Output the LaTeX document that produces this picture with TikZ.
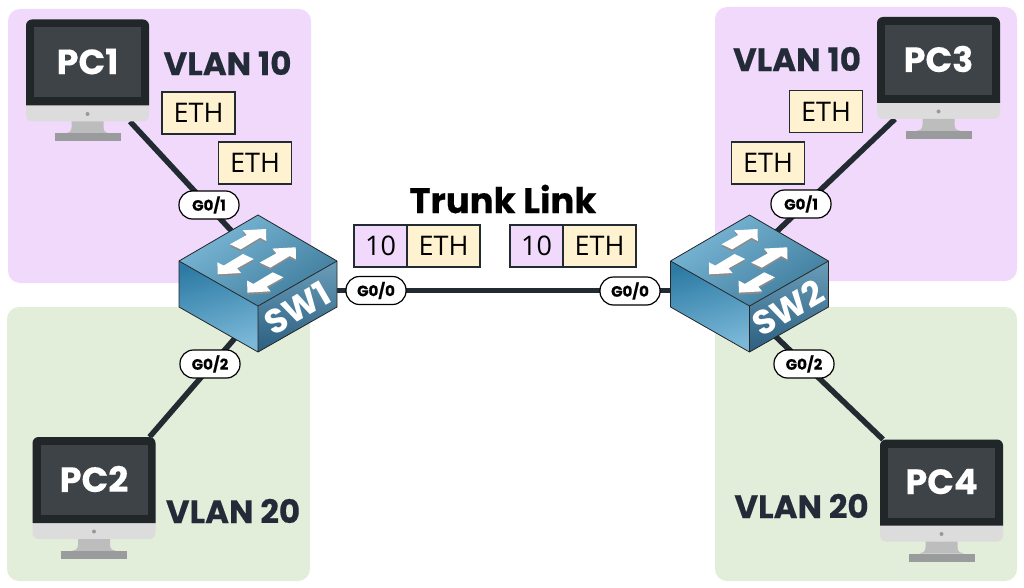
\documentclass[tikz,border=0pt]{standalone}
\usepackage{fontspec}
\setmainfont[BoldFeatures={FakeBold=0.35}]{Poppins}
\newfontfamily\ethfont{Open Sans}
\newfontfamily\swfont{Poppins}
\usetikzlibrary{positioning}

\definecolor{vlanpurple}{HTML}{F0D9FB}
\definecolor{vlangreen}{HTML}{E3EEDA}
\definecolor{ethyellow}{HTML}{FFF2D0}
\definecolor{linkdark}{HTML}{222A32}
\definecolor{titledark}{HTML}{232B38}
\definecolor{bezel}{HTML}{212629}
\definecolor{screen}{HTML}{3E4347}
\definecolor{chin}{HTML}{DCDCDC}
\definecolor{stand}{HTML}{BDBDBD}
\definecolor{standbase}{HTML}{999B9D}
\definecolor{swlight}{HTML}{7CB9D9}
\definecolor{swmid}{HTML}{3F7C9C}
\definecolor{swdeep}{HTML}{2D7BA5}
\definecolor{swdark}{HTML}{2C5F80}

\tikzset{
    region/.style={rounded corners=12pt},
    spot/.style={minimum width=123pt, minimum height=102pt, inner sep=0pt, outer sep=0pt},
    swspot/.style={minimum width=158pt, minimum height=137pt, inner sep=0pt, outer sep=0pt},
    link/.style={draw=linkdark, line width=5.5pt},
    port/.style={draw=black, line width=1.2pt, fill=white, rounded corners=13.5pt, minimum width=60pt,
        minimum height=28pt, inner sep=0pt, font=\fontsize{15}{17}\selectfont\bfseries},
    vlantitle/.style={text=titledark, inner sep=0pt, font=\fontsize{32.5}{36}\selectfont\bfseries},
    ethbox/.style={draw=linkdark, line width=1.2pt, fill=ethyellow, minimum width=73pt, minimum height=42pt,
        inner sep=0pt, outer sep=0pt, font=\fontsize{27}{30}\selectfont\ethfont},
    tagbox/.style={ethbox, fill=vlanpurple, minimum width=53pt},
}

% monitor drawn round the centre of its node
\newcommand{\pcart}[2]{
    \begin{scope}[shift={(#1)}]
        \fill[chin, rounded corners=6pt] (-61.5,-51) rectangle (61.5,51);
        \fill[bezel] (-61.5,35) [rounded corners=6pt] -- (-61.5,-51) -- (61.5,-51) [sharp corners] -- (61.5,35) -- cycle;
        \fill[screen] (-53.5,-43) rectangle (53.5,27);
        \fill[black!40] (0,43.5) circle (2pt);
        \fill[stand] (-16,51) -- (-16,57) .. controls (-16,61) and (-19,63) .. (-22,63) -- (22,63)
            .. controls (19,63) and (16,61) .. (16,57) -- (16,51) -- cycle;
        \fill[standbase] (-33,63) rectangle (33,71);
        \node (#1name) [text=white, inner sep=0pt, font=\fontsize{35}{40}\selectfont\bfseries] at (0,-9) {#2};
    \end{scope}
}

% switch box, (0,0) is the back corner of the top face
\newcommand{\swart}[2]{
    \begin{scope}[shift={(#1)}, shift={(0,-68.5)}]
        \shade[left color=swdeep, right color=swlight, shading angle=15]
            (-79,46) -- (0,91) -- (0,137) -- (-79,92) -- cycle;
        \shade[bottom color=swdark, top color=swlight!85!black]
            (79,46) -- (0,91) -- (0,137) -- (79,92) -- cycle;
        \shade[left color=swlight, right color=swmid, shading angle=35]
            (0,0) -- (79,46) -- (0,91) -- (-79,46) -- cycle;
        \draw[black!85, line width=0.8pt, line join=round] (0,0) -- (79,46) -- (79,92) -- (0,137) -- (-79,92) -- (-79,46) -- cycle
            (-79,46) -- (0,91) -- (79,46) (0,91) -- (0,137);
        \foreach \ax/\ay in {0/0, 29.7/18.3} {
            \fill[black!45] (\ax,\ay+2) ++(-28,29.3) -- ++(16.7,-9.3) -- ++(-4,-4.7) -- ++(23.3,-1.3) -- ++(0.3,12) -- ++(-6.3,-3.3) -- ++(-19.3,11.6) -- cycle;
            \fill[white] (\ax,\ay) ++(-28,29.3) -- ++(16.7,-9.3) -- ++(-4,-4.7) -- ++(23.3,-1.3) -- ++(0.3,12) -- ++(-6.3,-3.3) -- ++(-19.3,11.6) -- cycle;
            \fill[black!45] (\ax,\ay+2) ++(-4.3,44) -- ++(-16.7,9.3) -- ++(4,4.7) -- ++(-23.3,1.3) -- ++(-0.3,-12) -- ++(6.3,3.3) -- ++(19.3,-11.6) -- cycle;
            \fill[white] (\ax,\ay) ++(-4.3,44) -- ++(-16.7,9.3) -- ++(4,4.7) -- ++(-23.3,1.3) -- ++(-0.3,-12) -- ++(6.3,3.3) -- ++(19.3,-11.6) -- cycle;
        }
        \node (#1name) [text=white, rotate=30, inner sep=0pt, font=\fontsize{34}{38}\selectfont\swfont\bfseries] at (39,93) {#2};
    \end{scope}
}

\begin{document}
\begin{tikzpicture}[x=1pt, y=-1pt]

    \useasboundingbox (0,0) rectangle (1024,588);

    % vlan areas
    \fill[region, vlanpurple] (8,9) rectangle (311,283);
    \fill[region, vlangreen] (7,307) rectangle (310,581);
    \fill[region, vlanpurple] (715,7) rectangle (1017,281);
    \fill[region, vlangreen] (715,307) rectangle (1017,581);

    \node (pc1) [spot] at (87.5,70.5) {};
    \node (pc2) [spot] at (94,488) {};
    \node (pc3) [spot] at (938.5,68) {};
    \node (pc4) [spot] at (941.5,490.5) {};
    \node (sw1) [swspot] at (258,283.5) {};
    \node (sw2) [swspot] at (749.5,283.5) {};

    % links go under the icons
    \draw[link] ([xshift=-19pt]pc1.south east) -- ([yshift=24pt]sw1.center);
    \draw[link] ([xshift=-6pt]pc2.north east) -- ([yshift=-28pt]sw1.center);
    \draw[link] ([xshift=18pt]pc3.south west) -- ([yshift=26pt]sw2.center);
    \draw[link] ([xshift=3pt]pc4.north west) -- ([yshift=-28pt]sw2.center);
    \draw[link] ([yshift=-7pt]sw1.east) -- ([yshift=-7pt]sw2.west);

    \pcart{pc1}{PC1}
    \pcart{pc2}{PC2}
    \pcart{pc3}{PC3}
    \pcart{pc4}{PC4}
    \swart{sw1}{SW1}
    \swart{sw2}{SW2}

    \node (port1a) [port] at (209,205) {G0/1};
    \node (port1b) [port] at (210,364) {G0/2};
    \node (port1c) [port] at (376,290.5) {G0/0};
    \node (port2c) [port] at (630,291) {G0/0};
    \node (port2a) [port] at (801,204) {G0/1};
    \node (port2b) [port] at (804,364) {G0/2};

    \node (vlan1) [vlantitle] at (227.5,63) {VLAN 10};
    \node (vlan3) [vlantitle] at (797,59) {VLAN 10};
    \node (vlan2) [vlantitle] at (233,511) {VLAN 20};
    \node (vlan4) [vlantitle] at (801.5,506) {VLAN 20};

    \node (eth1) [ethbox] at (198.5,113) {ETH};
    \node (eth2) [ethbox] at (255,163) {ETH};
    \node (eth3) [ethbox] at (826,111.5) {ETH};
    \node (eth4) [ethbox] at (768,163) {ETH};

    \node (trunk) [inner sep=0pt, text=black, font=\fontsize{35.5}{38}\selectfont\bfseries] at (503,199) {Trunk Link};

    \node (tag1) [tagbox] at (380.5,246) {10};
    \node (frame1) [ethbox, right=0pt of tag1] {ETH};
    \node (tag2) [tagbox] at (536.5,246) {10};
    \node (frame2) [ethbox, right=0pt of tag2] {ETH};

\end{tikzpicture}
\end{document}
